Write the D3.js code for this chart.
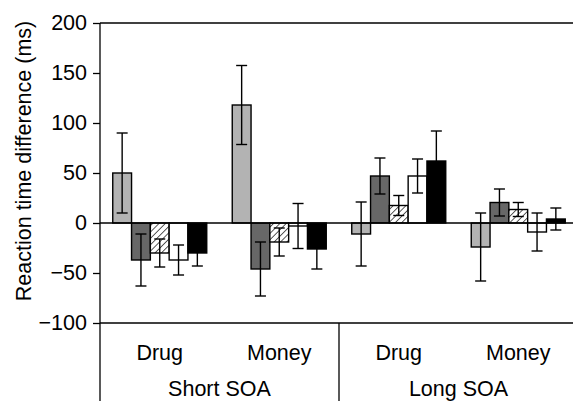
<!DOCTYPE html>
<html lang="en">
<head>
<meta charset="UTF-8">
<title>Reaction time difference</title>
<script src="https://cdn.jsdelivr.net/npm/d3@7"></script>
<style>
  body { margin: 0; background: #fff; }
  svg { display: block; font-family: "Liberation Sans", Arial, sans-serif; }
</style>
</head>
<body>
<svg width="573" height="401"></svg>
<script>
// data
const conditions = ["Drug", "Money", "Drug", "Money"];
const soaLabels = ["Short SOA", "Long SOA"];
const seriesNames = ["s1", "s2", "s3", "s4", "s5"];
const s1 = [50, 118, -11, -24];
const s2 = [-37, -46, 47, 20.5];
const s3 = [-30, -19, 17.5, 13.5];
const s4 = [-37, -3, 47, -9];
const s5 = [-30, -26, 62, 4];
const e1 = [40, 39.5, 32, 34];
const e2 = [26, 27, 18, 13.5];
const e3 = [14, 14, 10, 7];
const e4 = [15, 22.5, 17, 19];
const e5 = [13, 20, 30, 11];
const yTicks = [-100, -50, 0, 50, 100, 150, 200];

const means = [s1, s2, s3, s4, s5];
const errs = [e1, e2, e3, e4, e5];
const fills = ["#b3b3b3", "#676767", "url(#hatch)", "#ffffff", "#000000"];

const svg = d3.select("svg");
const plotL = 100, plotT = 23, plotB = 323, plotR = 578;

// hatch pattern
const pat = svg.append("defs").append("pattern")
  .attr("id", "hatch")
  .attr("patternUnits", "userSpaceOnUse")
  .attr("width", 4.5).attr("height", 4.5)
  .attr("patternTransform", "rotate(45)");
pat.append("rect").attr("width", 4.5).attr("height", 4.5).attr("fill", "#fff");
pat.append("line").attr("x1", 0).attr("y1", 0).attr("x2", 0).attr("y2", 4.5)
  .attr("stroke", "#000").attr("stroke-width", 1.3);

const x0 = d3.scaleBand()
  .domain(d3.range(conditions.length))
  .range([plotL, plotR])
  .paddingInner(0.2134)
  .paddingOuter(0.1067);

const x1 = d3.scaleBand()
  .domain(d3.range(seriesNames.length))
  .range([0, x0.bandwidth()]);

const y = d3.scaleLinear().domain([-100, 200]).range([plotB, plotT]);

// frame
svg.append("line").attr("x1", plotL).attr("x2", 573).attr("y1", plotT).attr("y2", plotT)
  .attr("stroke", "#000").attr("stroke-width", 1.3);
svg.append("line").attr("x1", plotL).attr("x2", 573).attr("y1", plotB).attr("y2", plotB)
  .attr("stroke", "#000").attr("stroke-width", 1.3);
svg.append("line").attr("x1", plotL).attr("x2", plotL).attr("y1", plotT).attr("y2", 401)
  .attr("stroke", "#000").attr("stroke-width", 1.3);
const mid = (x0(1) + x0.bandwidth() + x0(2)) / 2;
svg.append("line").attr("x1", mid).attr("x2", mid).attr("y1", plotB).attr("y2", 401)
  .attr("stroke", "#000").attr("stroke-width", 1.3);

// y axis
const yAxis = svg.append("g")
  .attr("transform", `translate(${plotL},0)`)
  .call(d3.axisLeft(y).tickValues(yTicks).tickSize(7).tickSizeOuter(0).tickPadding(6));
yAxis.select(".domain").remove();
yAxis.selectAll(".tick line").attr("stroke", "#000").attr("stroke-width", 1.3);
yAxis.selectAll("text")
  .attr("font-size", "21.5px")
  .attr("font-family", "Liberation Sans, Arial, sans-serif")
  .attr("fill", "#000");

svg.append("text")
  .attr("transform", "translate(31,161) rotate(-90)")
  .attr("text-anchor", "middle")
  .attr("font-size", "21.5px")
  .text("Reaction time difference (ms)");

// bars
const flat = [];
conditions.forEach((c, i) => {
  means.forEach((m, j) => flat.push({ g: i, s: j, v: m[i], e: errs[j][i] }));
});

const bars = svg.append("g");
bars.selectAll("rect")
  .data(flat)
  .join("rect")
  .attr("x", d => x0(d.g) + x1(d.s))
  .attr("width", x1.bandwidth())
  .attr("y", d => y(Math.max(0, d.v)))
  .attr("height", d => Math.abs(y(d.v) - y(0)))
  .attr("fill", d => fills[d.s])
  .attr("stroke", "#000")
  .attr("stroke-width", 1.4);

// zero line
svg.append("line").attr("x1", plotL).attr("x2", 573).attr("y1", y(0)).attr("y2", y(0))
  .attr("stroke", "#000").attr("stroke-width", 1.3);

// error bars
const eb = svg.append("g").attr("stroke", "#000").attr("stroke-width", 1.4);
const cx = d => x0(d.g) + x1(d.s) + x1.bandwidth() / 2;
eb.selectAll(".v").data(flat).join("line")
  .attr("x1", cx).attr("x2", cx)
  .attr("y1", d => y(d.v + d.e)).attr("y2", d => y(d.v - d.e));
eb.selectAll(".t").data(flat).join("line")
  .attr("x1", d => cx(d) - 5.5).attr("x2", d => cx(d) + 5.5)
  .attr("y1", d => y(d.v + d.e)).attr("y2", d => y(d.v + d.e));
eb.selectAll(".b").data(flat).join("line")
  .attr("x1", d => cx(d) - 5.5).attr("x2", d => cx(d) + 5.5)
  .attr("y1", d => y(d.v - d.e)).attr("y2", d => y(d.v - d.e));

// category labels
svg.append("g").selectAll("text")
  .data(conditions)
  .join("text")
  .attr("x", (d, i) => x0(i) + x0.bandwidth() / 2)
  .attr("y", 360)
  .attr("text-anchor", "middle")
  .attr("font-size", "21.5px")
  .text(d => d);

svg.append("g").selectAll("text")
  .data(soaLabels)
  .join("text")
  .attr("x", (d, i) => i === 0 ? (plotL + mid) / 2 : (mid + plotR) / 2)
  .attr("y", 396)
  .attr("text-anchor", "middle")
  .attr("font-size", "21.5px")
  .text(d => d);
</script>
</body>
</html>
